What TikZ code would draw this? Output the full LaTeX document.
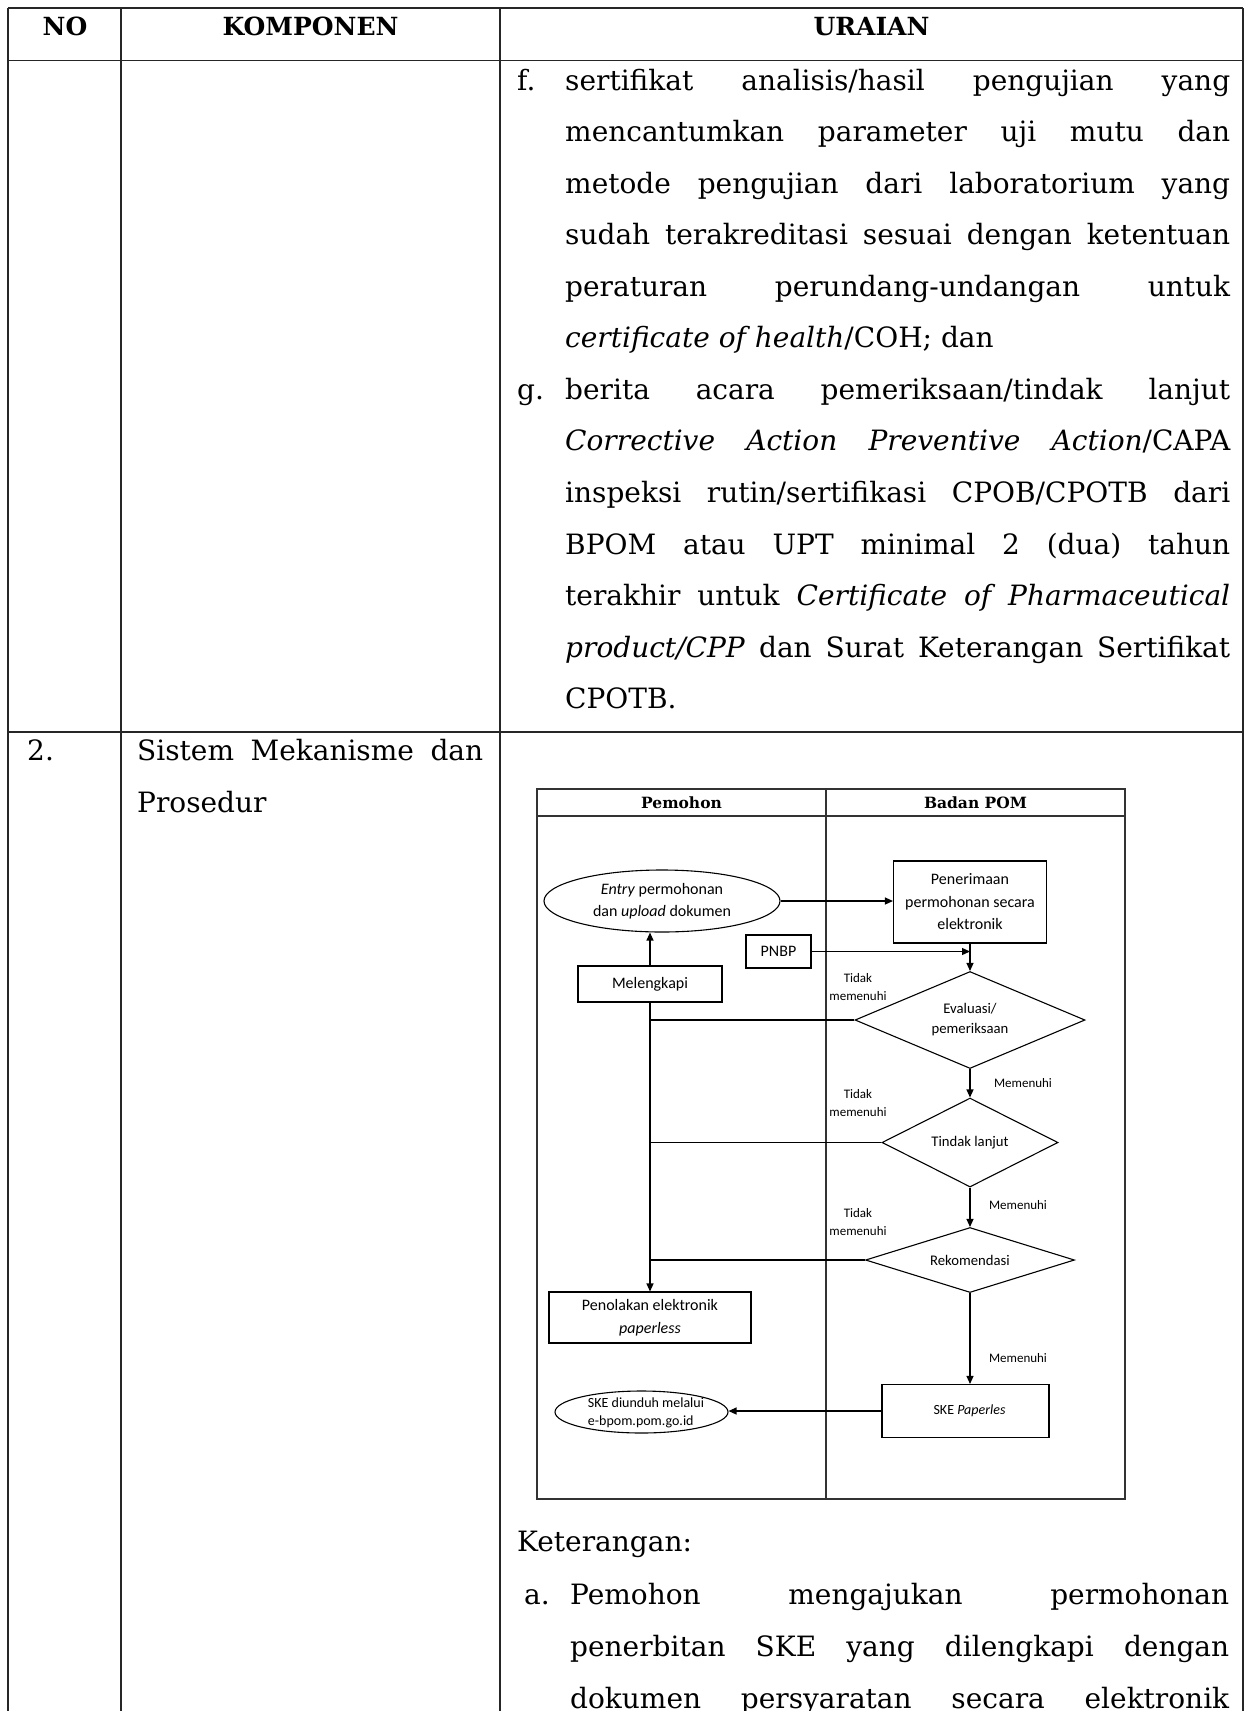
\documentclass[tikz,border=0pt]{standalone}
\usepackage{fontspec}
\setmainfont{DejaVu Serif}
\newfontfamily\flowfont{Carlito}
\usetikzlibrary{shapes.geometric,arrows.meta}

\begin{document}
\begin{tikzpicture}[x=1pt,y=-1pt,
  grid/.style={line width=1.5pt,black!85},
  head/.style={anchor=base,inner sep=0pt,font=\bfseries\fontsize{25}{29}\selectfont},
  body/.style={anchor=base west,inner sep=0pt,font=\fontsize{28}{33}\selectfont},
  frame/.style={line width=1.1pt,black!80},
  lane/.style={inner sep=0pt,font=\bfseries\fontsize{15.5}{18}\selectfont},
  fc/.style={inner sep=0pt,align=center,font=\flowfont\fontsize{16}{22.5}\selectfont},
  fbox/.style={fc,draw,line width=1.1pt},
  fdia/.style={fc,draw,line width=1.1pt,shape=diamond,font=\flowfont\fontsize{14.7}{20}\selectfont},
  fell/.style={fc,draw,line width=1.1pt,shape=ellipse},
  tag/.style={inner sep=0pt,align=center,font=\flowfont\fontsize{13}{18}\selectfont},
  arr/.style={line width=1.2pt,-{Triangle[length=8pt,width=7pt]}},
  link/.style={line width=1.2pt}
]
\useasboundingbox (0,0) rectangle (1245,1711);
\fill[white] (0,0) rectangle (1245,1711);
\clip (0,0) rectangle (1245,1711);

% ---------- table rules ----------
\draw[grid] (8,8) -- (1243,8);
\draw[grid] (8,60.5) -- (1243,60.5);
\draw[grid] (8,732) -- (1243,732);
\foreach \cx in {8,121,500,1243} \draw[grid] (\cx,8) -- (\cx,1720);

% ---------- header ----------
\node[head] (hno)  at (65,35.5)    {NO};
\node[head] (hkom) at (310.5,35.5) {KOMPONEN};
\node[head] (hura) at (871.5,35.5) {URAIAN};

% ---------- row 1, item f ----------
\node[body] (lf) at (517,90) {f.};
\node[body] (f1) at (565,90)    {\makebox[665pt][s]{sertifikat analisis/hasil pengujian yang}};
\node[body] (f2) at (565,141.5) {\makebox[665pt][s]{mencantumkan parameter uji mutu dan}};
\node[body] (f3) at (565,193.1) {\makebox[665pt][s]{metode pengujian dari laboratorium yang}};
\node[body] (f4) at (565,244.7) {\makebox[665pt][s]{sudah terakreditasi sesuai dengan ketentuan}};
\node[body] (f5) at (565,296.2) {\makebox[665pt][s]{peraturan perundang-undangan untuk}};
\node[body] (f6) at (565,347.8) {\textit{certificate of health}/COH; dan};

% ---------- row 1, item g ----------
\node[body] (lg) at (517,399.3) {g.};
\node[body] (g1) at (565,399.3) {\makebox[665pt][s]{berita acara pemeriksaan/tindak lanjut}};
\node[body] (g2) at (565,450.9) {\makebox[665pt][s]{\textit{Corrective Action Preventive Action}/CAPA}};
\node[body] (g3) at (565,502.4) {\makebox[665pt][s]{inspeksi rutin/sertifikasi CPOB/CPOTB dari}};
\node[body] (g4) at (565,554)   {\makebox[665pt][s]{BPOM atau UPT minimal 2 (dua) tahun}};
\node[body] (g5) at (565,605.5) {\makebox[665pt][s]{terakhir untuk \textit{Certificate of Pharmaceutical}}};
\node[body] (g6) at (565,657.1) {\makebox[665pt][s]{\textit{product/CPP} dan Surat Keterangan Sertifikat}};
\node[body] (g7) at (565,708.6) {CPOTB.};

% ---------- row 2 ----------
\node[body] (n2) at (27,760) {2.};
\node[body] (k1) at (137,760) {\makebox[346pt][s]{Sistem Mekanisme dan}};
\node[body] (k2) at (137,812) {Prosedur};

% ---------- swimlane frame ----------
\draw[frame] (537,789) rectangle (1125,1499);
\draw[frame] (537,816) -- (1125,816);
\draw[frame] (826,789) -- (826,1499);
\node[lane] (lp) at (681.5,803) {Pemohon};
\node[lane] (lb) at (975.5,803) {Badan POM};

% ---------- flowchart nodes ----------
\node[fell,minimum width=236pt,minimum height=62pt] (ent) at (662,901)
  {\textit{Entry} permohonan\\dan \textit{upload} dokumen};
\node[fbox,minimum width=153pt,minimum height=82pt] (pen) at (970,902)
  {Penerimaan\\permohonan secara\\elektronik};
\node[fbox,minimum width=65pt,minimum height=33pt] (pnbp) at (778.5,951.5) {PNBP};
\node[fbox,minimum width=144pt,minimum height=36pt] (mel) at (650,984) {Melengkapi};

\node[fdia,aspect=2.37,minimum width=230pt,minimum height=97pt] (d1) at (970,1020)
  {Evaluasi/\\pemeriksaan};
\node[fdia,aspect=1.98,minimum width=176pt,minimum height=89pt] (d2) at (970,1142.5)
  {Tindak lanjut};
\node[fdia,aspect=3.2,minimum width=209pt,minimum height=65pt] (d3) at (970,1260)
  {Rekomendasi};

\node[fbox,minimum width=202pt,minimum height=51pt] (pol) at (650,1317.5)
  {Penolakan elektronik\\\textit{paperless}};
\node[fbox,minimum width=167pt,minimum height=53pt,font=\flowfont\fontsize{14}{18}\selectfont] (ske) at (965.5,1411)
  {\hspace*{8pt}SKE \textit{Paperles}};
\node[fell,minimum width=173pt,minimum height=42pt] (skee) at (641.5,1412) {};
\node[tag,align=left,font=\flowfont\fontsize{14}{18}\selectfont] (skt) at (646,1413)
  {SKE diunduh melalui\\e-bpom.pom.go.id};

% ---------- branch labels ----------
\node[tag] (t1) at (858,987)  {Tidak\\memenuhi};
\node[tag] (t2) at (858,1103) {Tidak\\memenuhi};
\node[tag] (t3) at (858,1222) {Tidak\\memenuhi};
\node[tag] (m1) at (1023,1083) {Memenuhi};
\node[tag] (m2) at (1018,1205) {Memenuhi};
\node[tag] (m3) at (1018,1358) {Memenuhi};

% ---------- connectors ----------
\draw[arr] (ent.east) -- (ent.east -| pen.west);
\draw[arr] (pnbp.east) -- (pnbp.east -| pen.south);
\draw[arr] (pen.south) -- (d1.north);
\draw[arr] (mel.north) -- (mel.north |- ent.south);
\draw[arr] (mel.south) -- (pol.north);
\draw[link] (d1.west) -- (d1.west -| mel.south);
\draw[link] (d2.west) -- (d2.west -| mel.south);
\draw[link] (d3.west) -- (d3.west -| mel.south);
\draw[arr] (d1.south) -- (d2.north);
\draw[arr] (d2.south) -- (d3.north);
\draw[arr] (d3.south) -- (d3.south |- ske.north);
\draw[arr] (ske.west) -- (ske.west -| skee.east);

% ---------- notes below the chart ----------
\node[body] (ket) at (517,1551) {Keterangan:};
\node[body] (la) at (524,1604) {a.};
\node[body] (a1) at (570,1604) {\makebox[659pt][s]{Pemohon mengajukan permohonan}};
\node[body] (a2) at (570,1656) {\makebox[659pt][s]{penerbitan SKE yang dilengkapi dengan}};
\node[body] (a3) at (570,1708) {\makebox[659pt][s]{dokumen persyaratan secara elektronik}};
\end{tikzpicture}
\end{document}
